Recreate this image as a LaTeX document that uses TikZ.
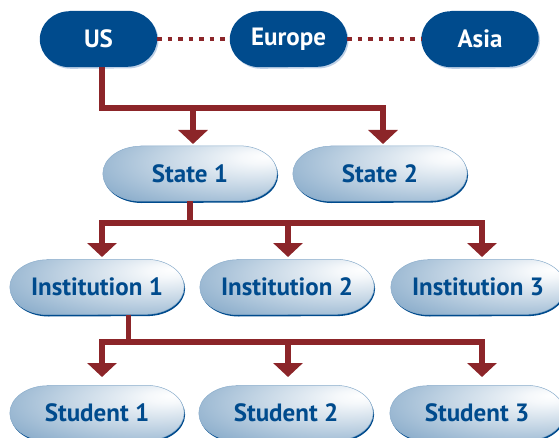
\documentclass[tikz,border=0pt]{standalone}
\usepackage{fontspec}
\setmainfont{PT Sans}
\usetikzlibrary{arrows.meta,backgrounds}
\definecolor{dkblue}{RGB}{0,75,141}
\definecolor{dkred}{RGB}{140,37,41}
\definecolor{rimblue}{RGB}{190,208,230}
\pgfdeclareradialshading{pillshade}{\pgfpoint{22bp}{16bp}}{%
  color(0bp)=(white);
  color(6bp)=(dkblue!4!white);
  color(25bp)=(dkblue!25!white);
  color(45bp)=(dkblue!48!white);
  color(65bp)=(dkblue!66!white);
  color(80bp)=(dkblue!72!white)}
\begin{document}
\begin{tikzpicture}[x=1pt,y=1pt,
  toppill/.style={rectangle, text=white, minimum width=117pt, minimum height=56pt,
    inner sep=0pt, font=\bfseries\fontsize{25}{28}\selectfont},
  pill/.style={rectangle, text=dkblue, minimum width=174pt, minimum height=55pt,
    inner sep=0pt, font=\bfseries\fontsize{25}{28}\selectfont},
  toppath/.style={insert path={([xshift=30pt]#1.north west) -- ([xshift=-30pt]#1.north east)
    arc[start angle=90,end angle=-90,x radius=30pt,y radius=28pt]
    -- ([xshift=30pt]#1.south west)
    arc[start angle=270,end angle=90,x radius=30pt,y radius=28pt] -- cycle}},
  pillpath/.style={insert path={([xshift=38pt]#1.north west) -- ([xshift=-38pt]#1.north east)
    arc[start angle=90,end angle=-90,x radius=38pt,y radius=27.5pt]
    -- ([xshift=38pt]#1.south west)
    arc[start angle=270,end angle=90,x radius=38pt,y radius=27.5pt] -- cycle}},
  conn/.style={draw=dkred, line width=5.5pt, line join=miter},
  arr/.style={conn, -{Triangle[width=29pt,length=14pt]}, color=dkred},
  dots/.style={draw=dkred, line width=4.5pt, dash pattern=on 4.5pt off 6pt}
]
\useasboundingbox (0,0) rectangle (559,437);
% nodes
\node[toppill] (us) at (98.5,398) {US};
\node[toppill] (eu) at (288.5,398) {Europe};
\node[toppill] (as) at (480,398) {Asia};
\node[pill] (s1) at (190,263.5) {State 1};
\node[pill] (s2) at (380,263.5) {State 2};
\node[pill] (i1) at (97,150) {Institution 1};
\node[pill] (i2) at (287,150) {Institution 2};
\node[pill] (i3) at (478,150) {Institution 3};
\node[pill] (st1) at (97,24) {Student 1};
\node[pill] (st2) at (286,24) {Student 2};
\node[pill] (st3) at (477,24) {Student 3};
% pill bodies
\begin{scope}[on background layer]
\foreach \n in {us,eu,as}{
  \path[fill=rimblue, transform canvas={shift={(1.3pt,-1.6pt)}}, toppath=\n];
  \path[fill=dkblue, toppath=\n];
}
\foreach \n in {s1,s2,i1,i2,i3,st1,st2,st3}{
  \path[fill=dkblue, transform canvas={shift={(0.9pt,-1.8pt)}}, pillpath=\n];
  \path[shading=pillshade, draw=dkblue!45, line width=0.5pt, pillpath=\n];
}
\end{scope}
% dotted links
\draw[dots] (us.east) -- (eu.west);
\draw[dots] (eu.east) -- (as.west);
% coordinates
\coordinate (h1a) at (102,329);
\coordinate (h1b) at (193,329);
\coordinate (h1c) at (383,329);
\coordinate (t1b) at (193,293);
\coordinate (t1c) at (383,293);
\coordinate (h2v) at (190,214);
\coordinate (h2a) at (102,214);
\coordinate (h2b) at (288,214);
\coordinate (h2c) at (482,214);
\coordinate (t2a) at (102,180);
\coordinate (t2b) at (288,180);
\coordinate (t2c) at (482,180);
\coordinate (h3v) at (128.5,95);
\coordinate (h3a) at (102,95);
\coordinate (h3b) at (288,95);
\coordinate (h3c) at (482,95);
\coordinate (t3a) at (102,60);
\coordinate (t3b) at (288,60);
\coordinate (t3c) at (482,60);
% connectors
\draw[arr] (us.south -| h1a) -- (h1a) -- (h1c) -- (t1c);
\draw[arr] (h1b) -- (t1b);
\draw[arr] (s1.south -| h2v) -- (h2v) -- (h2a) -- (t2a);
\draw[arr] (h2v) -- (h2c) -- (t2c);
\draw[arr] (h2b) -- (t2b);
\draw[arr] (i1.south -| h3v) -- (h3v) -- (h3a) -- (t3a);
\draw[arr] (h3v) -- (h3c) -- (t3c);
\draw[arr] (h3b) -- (t3b);
\end{tikzpicture}
\end{document}
